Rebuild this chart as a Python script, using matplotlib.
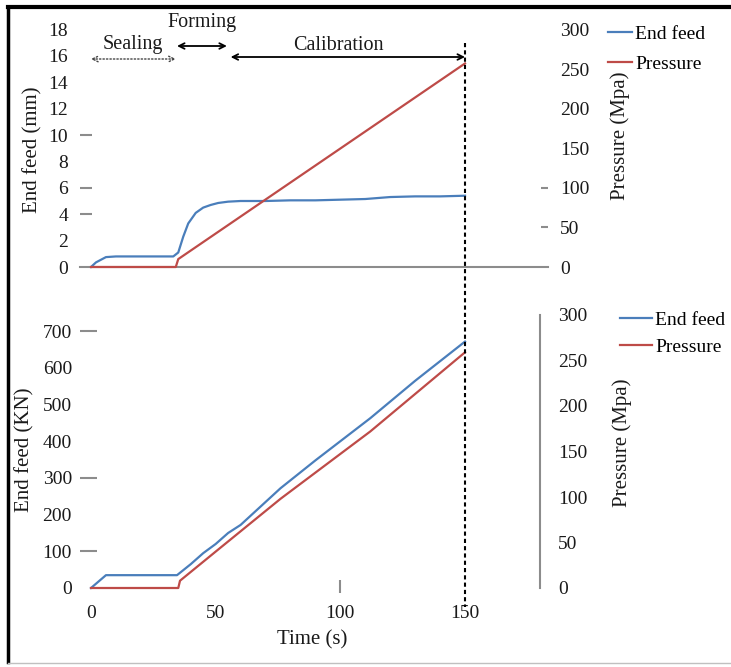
import matplotlib
matplotlib.use('Agg')
import matplotlib.pyplot as plt
from matplotlib.ticker import FixedLocator
from matplotlib.lines import Line2D
import matplotlib.transforms as mtransforms

plt.rcParams['font.family'] = ['Liberation Serif', 'DejaVu Serif']

# ---------------- data ----------------
# top panel: end feed displacement (mm) and pressure (Mpa) vs time (s)
t_feed_top = [0, 2, 6, 10, 20, 33, 35, 37, 39, 42, 45, 48, 51, 55, 60, 70, 80, 90, 100, 110, 120, 130, 140, 150]
feed_mm = [0, 0.35, 0.75, 0.8, 0.8, 0.8, 1.1, 2.3, 3.3, 4.1, 4.5, 4.7, 4.85, 4.95, 5.0, 5.0, 5.05, 5.05, 5.1, 5.15, 5.3, 5.35, 5.35, 5.4]
t_press_top = [0, 34, 35, 150]
press_top = [0, 0, 10, 257]

# bottom panel: end feed force (KN) and pressure (Mpa) vs time (s)
t_feed_bot = [0, 6, 34.5, 40, 45, 50, 55, 60, 76, 90, 112, 130, 150]
feed_kn = [0, 35, 35, 65, 95, 120, 150, 172, 272, 348, 463, 565, 672]
t_press_bot = [0, 35, 35.7, 50, 76, 112, 150]
press_bot = [0, 0, 8, 40, 98, 172, 259]

left_ticks_top = [0, 2, 4, 6, 8, 10, 12, 14, 16, 18]
right_ticks = [0, 50, 100, 150, 200, 250, 300]
left_ticks_bot = [0, 100, 200, 300, 400, 500, 600, 700]
x_ticks = [0, 50, 100, 150]
series_labels = ['End feed', 'Pressure']

phase_labels = ['Sealing', 'Forming', 'Calibration']
phase_start = [0, 34.5, 56]
phase_end = [34, 54.5, 150]

# stray short tick marks seen in the scan
stray_top_left = [4, 6, 10]
stray_top_right = [50, 100]
stray_bot_left = [100, 300, 700]
stray_bot_x = [100]

# ---------------- layout ----------------
W, H = 731, 667
BLUE = '#4a7ebb'
RED = '#be4b48'
GRAY = '#8c8c8c'
TXT = '#1a1a1a'
FS_T = 14
FS_L = 15


def fx(px):
    return px / W


def fy(py):
    return 1 - py / H


px_per_s = (465 - 91) / 150.0


def xl(px):
    return (px - 91) / px_per_s


fig = plt.figure(figsize=(W / 100, H / 100), dpi=100)

# ---- top panel ----
ax1 = fig.add_axes([fx(80), fy(280.2), (548 - 80) / W, (280.2 - 16.2) / H])
ax1.set_xlim(xl(80), xl(548))
ax1.set_ylim(-1, 19)
ax1r = ax1.twinx()
ax1r.set_ylim(-1 * 300 / 18, 19 * 300 / 18)

l1, = ax1.plot(t_feed_top, feed_mm, color=BLUE, lw=1.6, label=series_labels[0])
l2, = ax1r.plot(t_press_top, press_top, color=RED, lw=1.6, label=series_labels[1])

for s in ['top', 'left', 'right']:
    ax1.spines[s].set_visible(False)
    ax1r.spines[s].set_visible(False)
ax1r.spines['bottom'].set_visible(False)
ax1.spines['bottom'].set_position(('data', 0))
ax1.spines['bottom'].set_color(GRAY)
ax1.spines['bottom'].set_linewidth(1.5)
ax1.set_xticks([])
ax1.set_yticks(left_ticks_top)
ax1.tick_params(axis='y', which='major', length=0, pad=8.6, labelsize=FS_T, labelcolor=TXT)
ax1.yaxis.remove_overlapping_locs = False
ax1.yaxis.set_minor_locator(FixedLocator(stray_top_left))
ax1.tick_params(axis='y', which='minor', direction='in', length=8.6, width=1.5, color=GRAY)
ax1r.set_yticks(right_ticks)
ax1r.tick_params(axis='y', which='major', length=0, pad=8.6, labelsize=FS_T, labelcolor=TXT)
ax1r.yaxis.remove_overlapping_locs = False
ax1r.yaxis.set_minor_locator(FixedLocator(stray_top_right))
ax1r.tick_params(axis='y', which='minor', direction='in', length=5, width=1.5, color=GRAY)

# ---- bottom panel ----
ax2 = fig.add_axes([fx(80), fy(593), (540 - 80) / W, (593 - 305) / H])
ax2.set_xlim(xl(80), xl(540))
ax2.set_ylim(-5 / 0.3667, 283 / 0.3667)
ax2r = ax2.twinx()
ax2r.set_ylim(-5 / 0.91, 283 / 0.91)

l3, = ax2.plot(t_feed_bot, feed_kn, color=BLUE, lw=1.6, label=series_labels[0])
l4, = ax2r.plot(t_press_bot, press_bot, color=RED, lw=1.6, label=series_labels[1])

for s in ['top', 'left', 'right', 'bottom']:
    ax2.spines[s].set_visible(False)
for s in ['top', 'left', 'bottom']:
    ax2r.spines[s].set_visible(False)
ax2r.spines['right'].set_color(GRAY)
ax2r.spines['right'].set_linewidth(1.5)
ax2r.spines['right'].set_bounds(0, 300)

ax2.set_xticks(x_ticks)
ax2.tick_params(axis='x', which='major', length=0, pad=9, labelsize=FS_T, labelcolor=TXT)
ax2.xaxis.remove_overlapping_locs = False
ax2.xaxis.set_minor_locator(FixedLocator(stray_bot_x))
ax2.tick_params(axis='x', which='minor', direction='in', length=9.4, width=1.5, color=GRAY)
ax2.set_yticks(left_ticks_bot)
ax2.tick_params(axis='y', which='major', length=0, pad=5.8, labelsize=FS_T, labelcolor=TXT)
ax2.yaxis.remove_overlapping_locs = False
ax2.yaxis.set_minor_locator(FixedLocator(stray_bot_left))
ax2.tick_params(axis='y', which='minor', direction='in', length=12, width=1.5, color=GRAY)
ax2r.set_yticks(right_ticks)
ax2r.tick_params(axis='y', which='major', length=0, pad=13, labelsize=FS_T, labelcolor=TXT)

# ---- axis titles ----
fig.text(fx(33), fy(150), 'End feed (mm)', rotation=90, ha='center', va='center', fontsize=FS_L, color=TXT)
fig.text(fx(620), fy(136), 'Pressure (Mpa)', rotation=90, ha='center', va='center', fontsize=FS_L, color=TXT)
fig.text(fx(25), fy(450), 'End feed (KN)', rotation=90, ha='center', va='center', fontsize=FS_L, color=TXT)
fig.text(fx(622), fy(443), 'Pressure (Mpa)', rotation=90, ha='center', va='center', fontsize=FS_L, color=TXT)
fig.text(fx(312), fy(640), 'Time (s)', ha='center', va='center', fontsize=FS_L, color=TXT)

# ---- legends ----
fig.legend([l1, l2], series_labels, loc='upper left', bbox_to_anchor=(fx(608), fy(25)),
           frameon=False, fontsize=FS_T, handlelength=1.25, handletextpad=0.15,
           labelspacing=0.65, borderpad=0, borderaxespad=0)
fig.legend([l3, l4], series_labels, loc='upper left', bbox_to_anchor=(fx(620), fy(311)),
           frameon=False, fontsize=FS_T, handlelength=1.65, handletextpad=0.15,
           labelspacing=0.5, borderpad=0, borderaxespad=0)

# ---- phase annotations ----
bt = mtransforms.blended_transform_factory(ax1.transData, fig.transFigure)
arrow_y = [fy(59), fy(46), fy(57)]
text_pos = [(133, 45), (202, 23), (338, 45)]
styles = [dict(ls=(0, (1, 1.5)), color='#444444', lw=1.0),
          dict(ls='-', color='black', lw=1.3),
          dict(ls='-', color='black', lw=1.3)]
for i in range(3):
    ax1.annotate('', xy=(phase_end[i], arrow_y[i]), xycoords=bt,
                 xytext=(phase_start[i], arrow_y[i]), textcoords=bt,
                 arrowprops=dict(arrowstyle='<->', mutation_scale=10,
                                 shrinkA=0, shrinkB=0, **styles[i]),
                 annotation_clip=False)
    fig.text(fx(text_pos[i][0]), fy(text_pos[i][1]), phase_labels[i],
             ha='center', va='center', fontsize=14.5, color=TXT)

# vertical dotted line at end of calibration
fig.add_artist(Line2D([phase_end[2], phase_end[2]], [fy(43), fy(607)], transform=bt,
                      color='black', lw=1.5, ls=(0, (2, 1.5))))

# ---- frame of the scanned figure ----
fig.add_artist(Line2D([fx(8), fx(8)], [fy(7), fy(662)], color='black', lw=2.5))
fig.add_artist(Line2D([fx(8), 1], [fy(7), fy(7)], color='black', lw=3))
fig.add_artist(Line2D([fx(8), 1], [fy(663), fy(663)], color='#c0c0c0', lw=1))

fig.savefig('out.png', dpi=100)
